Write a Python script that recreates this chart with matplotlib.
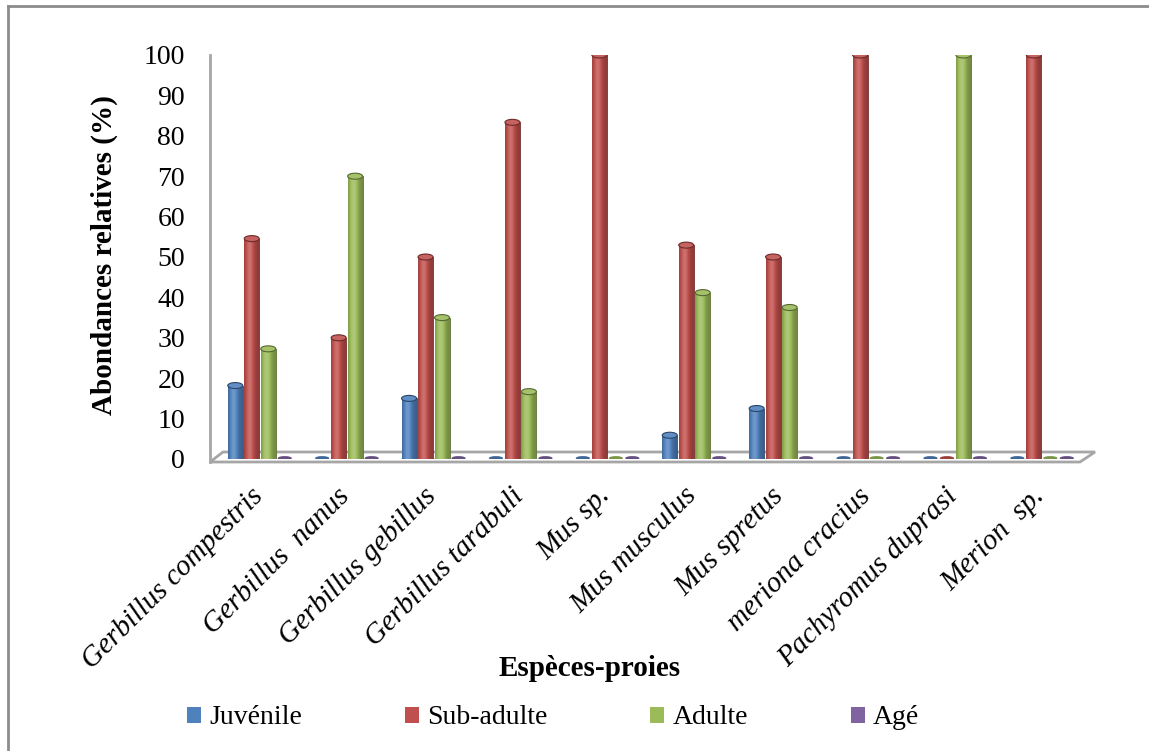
import numpy as np
import matplotlib
matplotlib.use("Agg")
import matplotlib.pyplot as plt
from matplotlib.patches import Ellipse, Polygon, Patch
from matplotlib.lines import Line2D
from matplotlib.colors import to_rgb

# ---- data -------------------------------------------------------------
species = ["Gerbillus compestris", "Gerbillus  nanus", "Gerbillus gebillus",
           "Gerbillus tarabuli", "Mus sp.", "Mus musculus", "Mus spretus",
           "meriona cracius", "Pachyromus duprasi", "Merion  sp."]
juvenile = [18.18, 0, 15.0, 0, 0, 5.88, 12.5, 0, 0, 0]
sub_adulte = [54.55, 30.0, 50.0, 83.33, 100, 52.94, 50.0, 100, 0, 100]
adulte = [27.27, 70.0, 35.0, 16.67, 0, 41.18, 37.5, 0, 100, 0]
age = [0, 0, 0, 0, 0, 0, 0, 0, 0, 0]
series_names = ["Juvénile", "Sub-adulte", "Adulte", "Agé"]
y_ticks = list(range(0, 101, 10))

colors = ["#4F81BD", "#C0504D", "#9BBB59", "#8064A2"]

plt.rcParams["font.family"] = ["Liberation Serif", "DejaVu Serif"]

W, H = 1149, 751
fig = plt.figure(figsize=(W / 100, H / 100), dpi=100)

x_left_px, x_right_px = 210, 1095
y0_px, y100_px = 459, 55
grp0_px, grp_step_px = 260, 86.9

ax = fig.add_axes([x_left_px / W, (H - y0_px) / H,
                   (x_right_px - x_left_px) / W, (y0_px - y100_px) / H])

px_per_unit = (y0_px - y100_px) / 100.0
x_lo = (x_left_px - grp0_px) / grp_step_px
x_hi = (x_right_px - grp0_px) / grp_step_px

x = np.arange(len(species))
step = 16.5 / grp_step_px
offsets = np.array([-1.5, -0.5, 0.5, 1.5]) * step
bw = 15.0 / grp_step_px


def shade(c, f):
    c = np.array(to_rgb(c))
    if f >= 1:
        return tuple(c + (1 - c) * (f - 1))
    return tuple(c * f)


def gradient(c, n=64):
    t = np.linspace(0, 1, n)
    # dark rims, highlight slightly left of centre
    prof = 0.74 + 0.45 * np.exp(-((t - 0.38) / 0.3) ** 2)
    cols = np.array([shade(c, p) for p in prof])
    return cols[np.newaxis, :, :]


# floor
floor_front = -3.0 / px_per_unit
floor_back = (y0_px - 452) / px_per_unit
floor = Polygon([[x_lo, floor_front],
                 [(1080 - grp0_px) / grp_step_px, floor_front],
                 [x_hi, floor_back],
                 [(223 - grp0_px) / grp_step_px, floor_back]],
                closed=True, facecolor="white", edgecolor="#A6A6A6",
                linewidth=2, zorder=1, clip_on=False)
ax.add_patch(floor)
ax.add_line(Line2D([x_lo, x_lo], [floor_front, 100], color="#A6A6A6",
                   linewidth=2, zorder=1, clip_on=False))

ell_h = 6.0 / px_per_unit
all_series = [juvenile, sub_adulte, adulte, age]
for si, (vals, col) in enumerate(zip(all_series, colors)):
    xs = x + offsets[si]
    z = 3 + si
    bars = ax.bar(xs, vals, width=bw, color=col, edgecolor=shade(col, 0.6),
                  linewidth=0.6, zorder=z)
    grad = gradient(col)
    for rect, xc, v in zip(bars, xs, vals):
        if v > 0:
            im = ax.imshow(grad, extent=[xc - bw / 2, xc + bw / 2, 0, v],
                           aspect="auto", zorder=z + 0.1, interpolation="bilinear")
            im.set_clip_path(rect)
            ax.add_patch(Ellipse((xc, 0), bw, ell_h, facecolor=shade(col, 0.85),
                                 edgecolor="none", zorder=z - 0.05))
            ax.add_patch(Ellipse((xc, v), bw, ell_h, facecolor=shade(col, 1.1),
                                 edgecolor=shade(col, 0.55), linewidth=0.8,
                                 zorder=z + 0.2))
        else:
            ax.add_patch(Ellipse((xc, 0.2), bw * 0.95, ell_h * 0.7,
                                 facecolor=shade(col, 0.8), edgecolor="none",
                                 zorder=z))

ax.set_xlim(x_lo, x_hi)
ax.set_ylim(0, 100)
for s in ax.spines.values():
    s.set_visible(False)
ax.set_yticks(y_ticks)
ax.set_yticklabels([str(t) for t in y_ticks])
ax.tick_params(axis="y", length=0, pad=18, labelsize=20)
ax.set_xticks([])

for xi, name in zip(x, species):
    ax.text(xi - 0.12, -5.9, name, rotation=45, rotation_mode="anchor",
            ha="right", va="top", fontsize=21, style="italic", clip_on=False)

ax.set_ylabel("Abondances relatives (%)", fontsize=21, fontweight="bold")
ax.yaxis.set_label_coords((118 - x_left_px) / (x_right_px - x_left_px), 0.505)
ax.set_xlabel("Espèces-proies", fontsize=21, fontweight="bold")
ax.xaxis.set_label_coords((590 - x_left_px) / (x_right_px - x_left_px),
                          -(668 - y0_px) / (y0_px - y100_px))
ax.xaxis.label.set_va("center")

handles = [Patch(facecolor=c, edgecolor="none") for c in colors]
fig.legend(handles, series_names, ncol=4, loc="center left",
           bbox_to_anchor=(187 / W, (H - 718) / H), frameon=False,
           fontsize=20, handlelength=0.5, handleheight=0.5,
           handletextpad=0.3, columnspacing=3.7, borderpad=0,
           borderaxespad=0)

# outer frame (left and top edges)
fig.add_artist(Line2D([7.5 / W, 7.5 / W], [0, 1 - 6 / H], color="#8C8C8C",
                      linewidth=2, transform=fig.transFigure))
fig.add_artist(Line2D([7.5 / W, 1], [1 - 6 / H, 1 - 6 / H], color="#8C8C8C",
                      linewidth=2, transform=fig.transFigure))

fig.savefig("out.png", dpi=100, facecolor="white")
